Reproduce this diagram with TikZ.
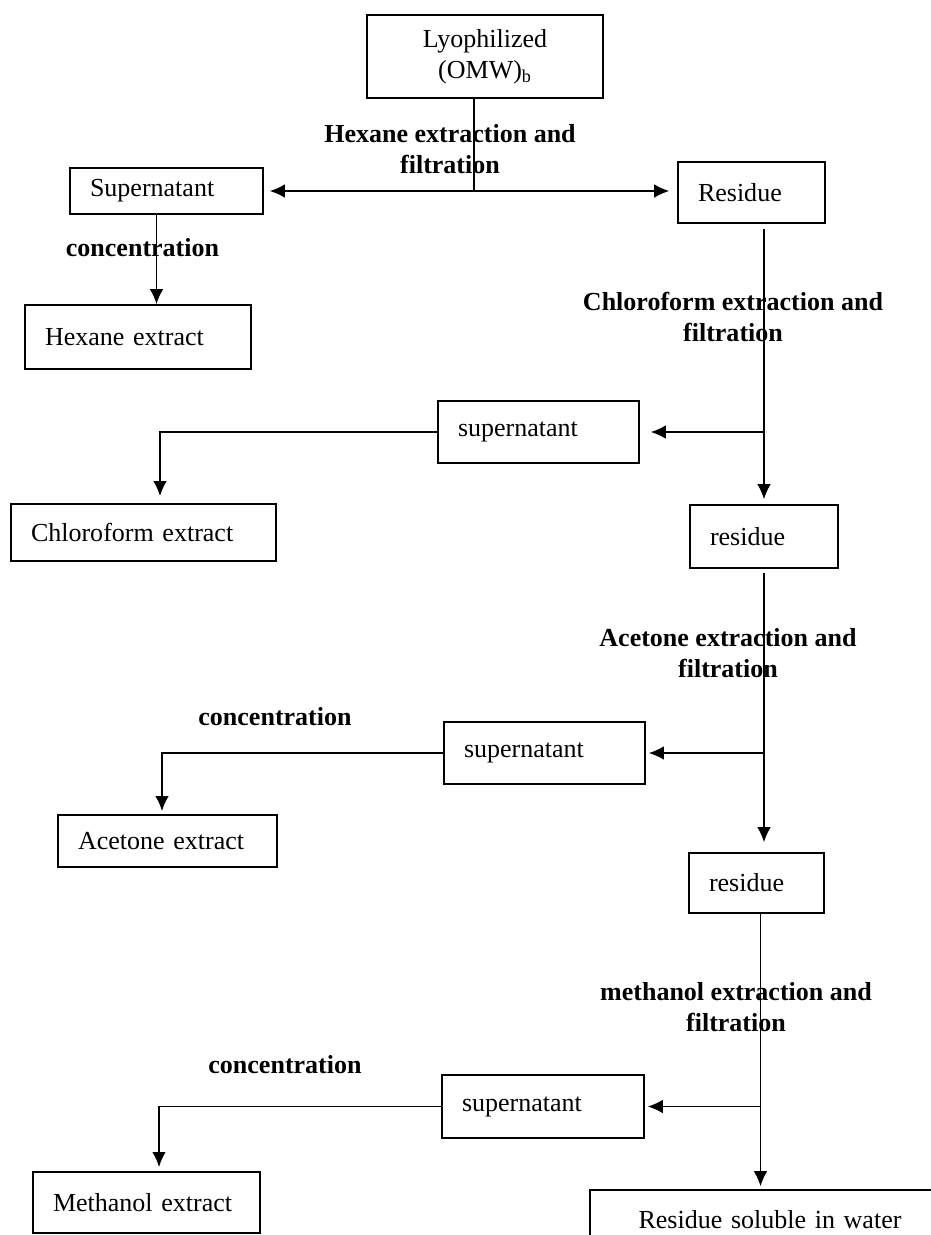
\documentclass[tikz,border=0pt]{standalone}
\usepackage{fontspec}
\setmainfont{Liberation Serif}
\usetikzlibrary{arrows.meta}
\tikzset{>={Latex[length=0.375cm, width=0.34cm]}}
\tikzset{
    every node/.style={font=\fontsize{18.5}{22}\selectfont},
    boxnode/.style={draw, rectangle, line width=1.3pt, inner xsep=0.5cm, inner ysep=0pt, align=left},
    steplabel/.style={font=\fontsize{18.5}{22}\selectfont\bfseries, align=center},
    flow/.style={line width=0.8pt, ->}
}

\begin{document}
\begin{tikzpicture}
    \useasboundingbox (0cm, 0cm) rectangle (23.275cm, -30.875cm);

    \node[boxnode, align=center, text width=4.9cm, minimum height=2.075cm] (lyo) at (12.125cm, -1.4125cm) {\rule{0pt}{12pt}Lyophilized\\(OMW)\textsubscript{b}};
    \node[boxnode, text width=3.825cm, minimum height=1.15cm] (sup0) at (4.1625cm, -4.775cm) {Supernatant};
    \node[boxnode, text width=2.675cm, minimum height=1.525cm] (res0) at (18.7875cm, -4.8125cm) {Residue};
    \node[boxnode, text width=4.65cm, minimum height=1.6cm] (hex) at (3.45cm, -8.425cm) {Hexane extract};
    \node[boxnode, text width=4.025cm, minimum height=1.55cm] (sup1) at (13.4625cm, -10.8cm) {supernatant};
    \node[boxnode, text width=5.625cm, minimum height=1.425cm] (chl) at (3.5875cm, -13.3125cm) {Chloroform extract};
    \node[boxnode, text width=2.7cm, minimum height=1.575cm] (res1) at (19.1cm, -13.4125cm) {residue};
    \node[boxnode, text width=4.025cm, minimum height=1.55cm] (sup2) at (13.6125cm, -18.825cm) {supernatant};
    \node[boxnode, text width=4.475cm, minimum height=1.3cm] (ace) at (4.1875cm, -21.025cm) {Acetone extract};
    \node[boxnode, text width=2.375cm, minimum height=1.5cm] (res2) at (18.9125cm, -22.075cm) {residue};
    \node[boxnode, text width=4.05cm, minimum height=1.575cm] (sup3) at (13.575cm, -27.6625cm) {supernatant};
    \node[boxnode, text width=4.675cm, minimum height=1.525cm] (met) at (3.6625cm, -30.0625cm) {Methanol extract};
    \node[boxnode, align=center, text width=8cm, minimum height=1.5cm] (sol) at (19.25cm, -30.5cm) {Residue soluble in water};

    \node[steplabel] (hexl) at (11.25cm, -3.725cm) {Hexane extraction and\\filtration};
    \node[steplabel] (conc0) at (3.5625cm, -6.2cm) {concentration};
    \node[steplabel] (chll) at (18.325cm, -7.925cm) {Chloroform extraction and\\filtration};
    \node[steplabel] (acel) at (18.2cm, -16.325cm) {Acetone extraction and\\filtration};
    \node[steplabel] (conc1) at (6.875cm, -17.925cm) {concentration};
    \node[steplabel] (metl) at (18.4cm, -25.1875cm) {methanol extraction and\\filtration};
    \node[steplabel] (conc2) at (7.125cm, -26.625cm) {concentration};

    \coordinate (hj) at (11.85cm, -4.775cm);

    \draw[line width=0.8pt] (hj |- lyo.south) -- (hj);
    \draw[line width=0.8pt, <->, shorten <=0.15cm, shorten >=0.2cm] (sup0.east) -- (sup0.east -| res0.west);
    \draw[flow, line width=1.1pt] ([xshift=-0.25cm]sup0.south) -- ([xshift=-0.25cm]sup0.south |- hex.north);

    \draw[flow, shorten <=0.125cm, shorten >=0.125cm] (res1.north |- res0.south) -- (res1.north);
    \draw[flow, shorten >=0.275cm] (res1.north |- sup1.east) -- (sup1.east);
    \draw[flow, line width=1.3pt, shorten >=0.175cm] (sup1.west) -| ([xshift=0.4125cm]chl.north);

    \draw[flow, shorten <=0.1cm, shorten >=0.25cm] (res1.south) -- (res1.south |- res2.north);
    \draw[flow, shorten >=0.075cm] (res1.south |- sup2.east) -- (sup2.east);
    \draw[flow, line width=1.3pt, shorten >=0.075cm] (sup2.west) -| ([xshift=-0.1375cm]ace.north);

    \draw[flow, shorten >=0.075cm] ([xshift=0.1cm]res2.south) -- ([xshift=0.1cm]res2.south |- sol.north);
    \draw[flow, shorten >=0.075cm] ([xshift=0.1cm]res2.south |- sup3.east) -- (sup3.east);
    \draw[flow, line width=1.3pt, shorten >=0.1cm] (sup3.west) -| ([xshift=0.3125cm]met.north);
\end{tikzpicture}
\end{document}
